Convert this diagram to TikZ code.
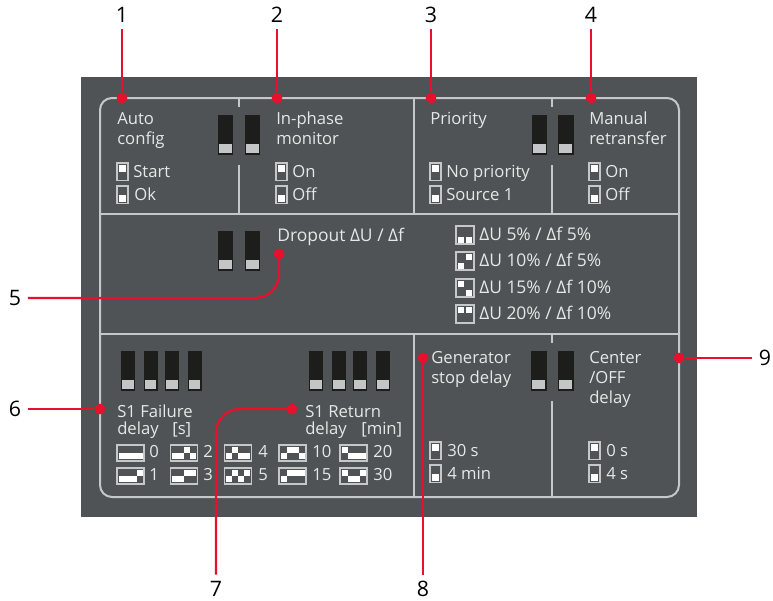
\documentclass[tikz,border=0pt]{standalone}
\usepackage{fontspec}
\setmainfont{Open Sans}
\definecolor{panel}{HTML}{4F5355}
\definecolor{rule}{HTML}{C4C8C8}
\definecolor{ink}{HTML}{E6E8E8}
\definecolor{lead}{HTML}{E8112D}
\definecolor{sw}{HTML}{1D1D1B}
\definecolor{knob}{HTML}{C2C6C7}
\tikzset{
  txt/.style={text=ink,font=\fontsize{12.5pt}{13pt}\selectfont,inner sep=0pt,anchor=west,text height=9pt,text depth=3pt,yshift=-0.75pt},
  txtw/.style={txt,font=\fontsize{13.1pt}{13pt}\selectfont},
  num/.style={text=black,font=\fontsize{16pt}{18pt}\selectfont,inner sep=0pt,outer sep=5pt},
  leadline/.style={draw=lead,line width=1.7pt,rounded corners=18pt},
  leaddot/.style={fill=lead,circle,inner sep=0pt,minimum size=8pt},
  rulel/.style={draw=rule,line width=1.5pt}
}
% dip switch: x, y (top-left), width
\newcommand{\dipsw}[3]{%
  \fill[sw] (#1,#2) rectangle ++(#3,40);
  \fill[knob] (#1+1.2,#2+29) rectangle ++(#3-2.4,9);
}
% two-position indicator: x,y top-left, 1 upper / 0 lower
\newcommand{\minisw}[3]{%
  \draw[rule,line width=.8pt] (#1,#2) rectangle ++(11,17.5);
  \ifnum#3=1 \fill[white] (#1+2,#2+2) rectangle ++(7,7);
  \else \fill[white] (#1+2,#2+8.5) rectangle ++(7,7);\fi
}
% code box: x,y top-left; bits comma list
\newcommand{\codebox}[3]{%
  \draw[rule,line width=.8pt] (#1,#2) rectangle ++(27,16);
  \foreach \b [count=\i from 0] in {#3} {
    \ifnum\b=1 \fill[white] (#1+1.5+\i*6,#2+2) rectangle ++(6,6);
    \else \fill[white] (#1+1.5+\i*6,#2+8) rectangle ++(6,6);\fi
  }
}
\newcommand{\sqbox}[4]{%
  \draw[rule,line width=.8pt] (#1,#2) rectangle ++(18,18);
  \ifnum#3=1 \fill[white] (#1+2,#2+2) rectangle ++(6,6);
  \else \fill[white] (#1+2,#2+11) rectangle ++(6,6);\fi
  \ifnum#4=1 \fill[white] (#1+10,#2+2) rectangle ++(6,6);
  \else \fill[white] (#1+10,#2+11) rectangle ++(6,6);\fi
}
\begin{document}
\begin{tikzpicture}[x=0.75pt,y=-0.75pt]
\useasboundingbox (0,0) rectangle (773,600);
\fill[white] (0,0) rectangle (773,600);
\fill[panel] (81,77) rectangle (697,517);
% frame
\draw[rulel,rounded corners=9pt] (100,98) rectangle (679,497);
\draw[rulel] (100,214) -- (679,214);
\draw[rulel] (100,334) -- (679,334);
\draw[rulel] (239,98) -- (239,107);
\draw[rulel] (239,165) -- (239,214);
\draw[rulel] (414,98) -- (414,214);
\draw[rulel] (552,98) -- (552,107);
\draw[rulel] (552,165) -- (552,214);
\draw[rulel] (414,334) -- (414,497);
\draw[rulel] (552,334) -- (552,343);
\draw[rulel] (552,401) -- (552,497);
% dip switches
\dipsw{218}{115}{15}\dipsw{245}{115}{15}
\dipsw{531.5}{115}{15.5}\dipsw{558}{115}{15.5}
\dipsw{218}{231}{15}\dipsw{245}{231}{15}
\dipsw{121}{351}{14}\dipsw{143.5}{351}{14}\dipsw{165}{351}{14}\dipsw{187.5}{351}{14}
\dipsw{309}{351}{14}\dipsw{332}{351}{14}\dipsw{353}{351}{14}\dipsw{376}{351}{14}
\dipsw{531}{351}{15.5}\dipsw{558}{351}{15.5}
% section 1-4 text
\node[txt] (t1) at (117,119) {Auto};
\node[txt] (t1b) at (117,139) {config};
\node[txt] (t2) at (276,119) {In-phase};
\node[txt] (t2b) at (276,139) {monitor};
\node[txt] (t3) at (430,119) {Priority};
\node[txt] (t4) at (589,119) {Manual};
\node[txt] (t4b) at (589,139) {retransfer};
\minisw{117}{163}{1}\node[txt] (a) at (133,172) {Start};
\minisw{117}{186}{0}\node[txt] (b) at (134,195) {Ok};
\minisw{276}{163}{1}\node[txt] (c) at (292,172) {On};
\minisw{276}{186}{0}\node[txt] (d) at (292,195) {Off};
\minisw{430}{163}{1}\node[txt] (e) at (446,172) {No priority};
\minisw{430}{186}{0}\node[txt] (f) at (446,195) {Source 1};
\minisw{589}{163}{1}\node[txt] (g) at (605,172) {On};
\minisw{589}{186}{0}\node[txt] (h) at (605,195) {Off};
% section 5
\node[txtw] (t5) at (277,236) {Dropout ΔU / Δf};
\sqbox{456}{226}{0}{0}\node[txtw] (i) at (479,235) {ΔU 5\% / Δf 5\%};
\sqbox{456}{252}{0}{1}\node[txtw] (j) at (479,261) {ΔU 10\% / Δf 5\%};
\sqbox{456}{279}{1}{0}\node[txtw] (k) at (479,288) {ΔU 15\% / Δf 10\%};
\sqbox{456}{305}{1}{1}\node[txtw] (l) at (479,314) {ΔU 20\% / Δf 10\%};
% section 6
\node[txt] (t6) at (117,412) {S1 Failure};
\node[txt] (t6b) at (117,429) {delay};
\node[txt] (t6c) at (172,429) {[s]};
\codebox{117}{445}{0,0,0,0}\node[txt] (n0) at (149,452) {0};
\codebox{117}{468}{0,0,0,1}\node[txt] (n1) at (149,475) {1};
\codebox{170.5}{445}{0,0,1,0}\node[txt] (n2) at (203,452) {2};
\codebox{170.5}{468}{0,0,1,1}\node[txt] (n3) at (203,475) {3};
\codebox{224.5}{445}{0,1,0,0}\node[txt] (n4) at (258,452) {4};
\codebox{224.5}{468}{0,1,0,1}\node[txt] (n5) at (258,475) {5};
\codebox{279}{445}{0,1,1,0}\node[txt] (n10) at (312,452) {10};
\codebox{279}{468}{0,1,1,1}\node[txt] (n15) at (312,475) {15};
\codebox{340}{445}{1,0,0,0}\node[txt] (n20) at (373,452) {20};
\codebox{340}{468}{1,0,0,1}\node[txt] (n30) at (373,475) {30};
% section 7
\node[txt] (t7) at (305,412) {S1 Return};
\node[txt] (t7b) at (305,429) {delay};
\node[txt] (t7c) at (361,429) {[min]};
% section 8/9
\node[txt] (t8) at (431,358) {Generator};
\node[txt] (t8b) at (431,378) {stop delay};
\node[txt] (t9) at (589,358) {Center};
\node[txt] (t9b) at (589,378) {/OFF};
\node[txt] (t9c) at (589,398) {delay};
\minisw{430}{442}{1}\node[txt] (m) at (447,451) {30 s};
\minisw{430}{465}{0}\node[txt] (o) at (447,474) {4 min};
\minisw{589}{442}{1}\node[txt] (p) at (606,451) {0 s};
\minisw{589}{465}{0}\node[txt] (q) at (606,474) {4 s};
% numbers
\node[num] (N1) at (122,15) {1};
\node[num] (N2) at (277,15) {2};
\node[num] (N3) at (431,15) {3};
\node[num] (N4) at (591,15) {4};
\node[num] (N5) at (15,298) {5};
\node[num] (N6) at (15,409) {6};
\node[num] (N7) at (216,589) {7};
\node[num] (N8) at (423,589) {8};
\node[num] (N9) at (765,358) {9};
% leader ends
\node[leaddot] (D1) at (122,98) {};
\node[leaddot] (D2) at (277,98) {};
\node[leaddot] (D3) at (431,98) {};
\node[leaddot] (D4) at (591,98) {};
\node[leaddot] (D5) at (279,254) {};
\node[leaddot] (D6) at (100,409) {};
\node[leaddot] (D7) at (292,409) {};
\node[leaddot] (D8) at (423,358) {};
\node[leaddot] (D9) at (679,358) {};
\draw[leadline] (N1) -- (D1);
\draw[leadline] (N2) -- (D2);
\draw[leadline] (N3) -- (D3);
\draw[leadline] (N4) -- (D4);
\draw[leadline] (N5.east) -- (279,298) -- (D5.center);
\draw[leadline] (N6) -- (D6);
\draw[leadline] (N7.north) -- (216,409) -- (D7.center);
\draw[leadline] (N8) -- (D8);
\draw[leadline] (N9) -- (D9);
\end{tikzpicture}
\end{document}
